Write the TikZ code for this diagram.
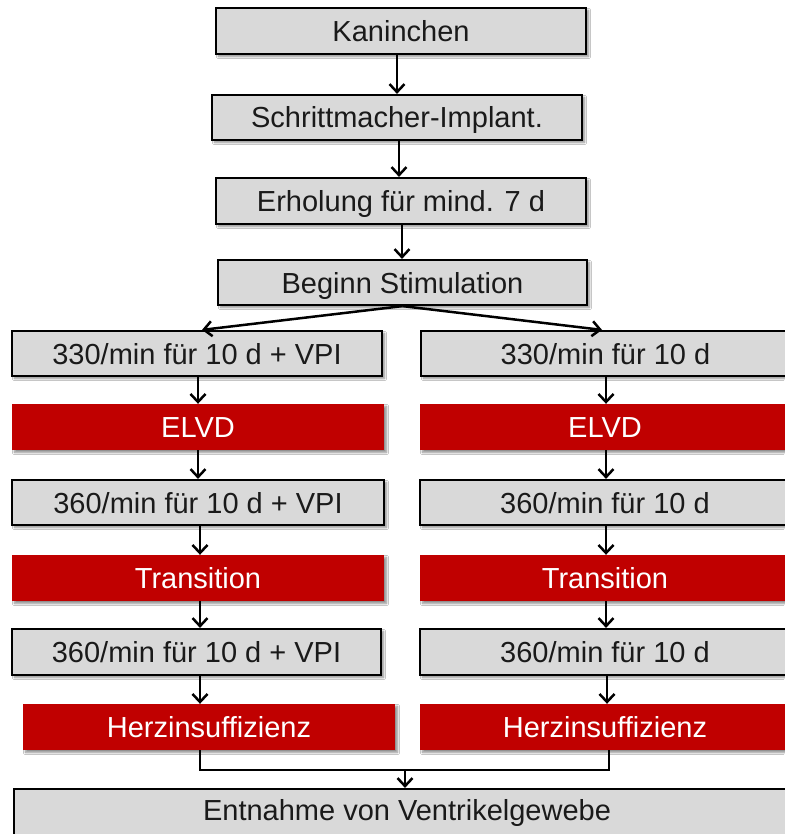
\documentclass[tikz,border=0pt]{standalone}
\usepackage{fontspec}
\setmainfont{Liberation Sans}
\usetikzlibrary{arrows.meta,shadows.blur,calc}
\definecolor{boxgray}{HTML}{D9D9D9}
\definecolor{boxred}{HTML}{C00000}
\definecolor{txt}{HTML}{1A1A1A}
\begin{document}
\begin{tikzpicture}[x=1pt,y=-1pt,
  base/.style={rectangle, inner sep=0pt, font=\fontsize{29}{31}\selectfont,
    text height=21pt, text depth=0pt,
    blur shadow={shadow xshift=2.5pt, shadow yshift=-2.5pt, shadow blur steps=6, shadow opacity=45}},
  graybox/.style={base, draw=black, line width=2.2pt, fill=boxgray, text=txt},
  redbox/.style={base, fill=boxred, text=white},
  conn/.style={line width=2.5pt, draw=black},
  arr/.style={conn, -{Straight Barb[length=8pt,width=15pt,line width=2.5pt]}}
]
\useasboundingbox (0,0) rectangle (784,834);
\fill[white] (0,0) rectangle (784,834);
% top chain
\node[graybox, minimum width=370, minimum height=46] (k) at (401,31) {Kaninchen};
\node[graybox, minimum width=370, minimum height=45] (s) at (397,117.5) {Schrittmacher-Implant.};
\node[graybox, minimum width=370, minimum height=46] (e) at (401,201) {Erholung für mind. 7 d};
\node[graybox, minimum width=369, minimum height=45] (b) at (402.5,282.5) {Beginn Stimulation};
% left column
\node[graybox, minimum width=370, minimum height=45] (l1) at (197,353.5) {330/min für 10 d + VPI};
\node[redbox, minimum width=372, minimum height=46] (l2) at (198,427) {ELVD};
\node[graybox, minimum width=372, minimum height=45] (l3) at (198,502.5) {360/min für 10 d + VPI};
\node[redbox, minimum width=372, minimum height=46] (l4) at (198,578) {Transition};
\node[graybox, minimum width=369, minimum height=46] (l5) at (196.5,652) {360/min für 10 d + VPI};
\node[redbox, minimum width=372, minimum height=46] (l6) at (209,727) {Herzinsuffizienz};
% right column
\node[graybox, minimum width=369, minimum height=45] (r1) at (605.5,353.5) {330/min für 10 d};
\node[redbox, minimum width=370, minimum height=46] (r2) at (605,427) {ELVD};
\node[graybox, minimum width=370, minimum height=45] (r3) at (605,502.5) {360/min für 10 d};
\node[redbox, minimum width=370, minimum height=46] (r4) at (605,578) {Transition};
\node[graybox, minimum width=370, minimum height=46] (r5) at (605,652) {360/min für 10 d};
\node[redbox, minimum width=370, minimum height=46] (r6) at (605,727) {Herzinsuffizienz};
% bottom
\node[graybox, minimum width=786, minimum height=50] (ent) at (407,814) {\raisebox{4pt}{Entnahme von Ventrikelgewebe}};
% arrows top chain
\draw[arr] (k.south -| 397,0) -- (s.north -| 397,0);
\draw[arr] (s.south -| 399,0) -- (e.north -| 399,0);
\draw[arr] (e.south -| 402,0) -- (b.north -| 402,0);
% split
\draw[arr] (b.south) -- (l1.north -| 202,0);
\draw[arr] (b.south) -- (r1.north -| 602,0);
% left column arrows
\draw[arr] (l1.south -| 198,0) -- (l2.north -| 198,0);
\draw[arr] (l2.south -| 198,0) -- (l3.north -| 198,0);
\draw[arr] (l3.south -| 200,0) -- (l4.north -| 200,0);
\draw[arr] (l4.south -| 200,0) -- (l5.north -| 200,0);
\draw[arr] (l5.south -| 200,0) -- (l6.north -| 200,0);
% right column arrows
\draw[arr] (r1.south -| 606,0) -- (r2.north -| 606,0);
\draw[arr] (r2.south -| 606,0) -- (r3.north -| 606,0);
\draw[arr] (r3.south -| 606,0) -- (r4.north -| 606,0);
\draw[arr] (r4.south -| 606,0) -- (r5.north -| 606,0);
\draw[arr] (r5.south -| 607,0) -- (r6.north -| 607,0);
% merge
\coordinate (m) at (405,770);
\draw[conn] (l6.south -| 200,0) |- (m) -| (r6.south -| 609,0);
\draw[arr] (m) -- (ent.north -| m);
\end{tikzpicture}
\end{document}
